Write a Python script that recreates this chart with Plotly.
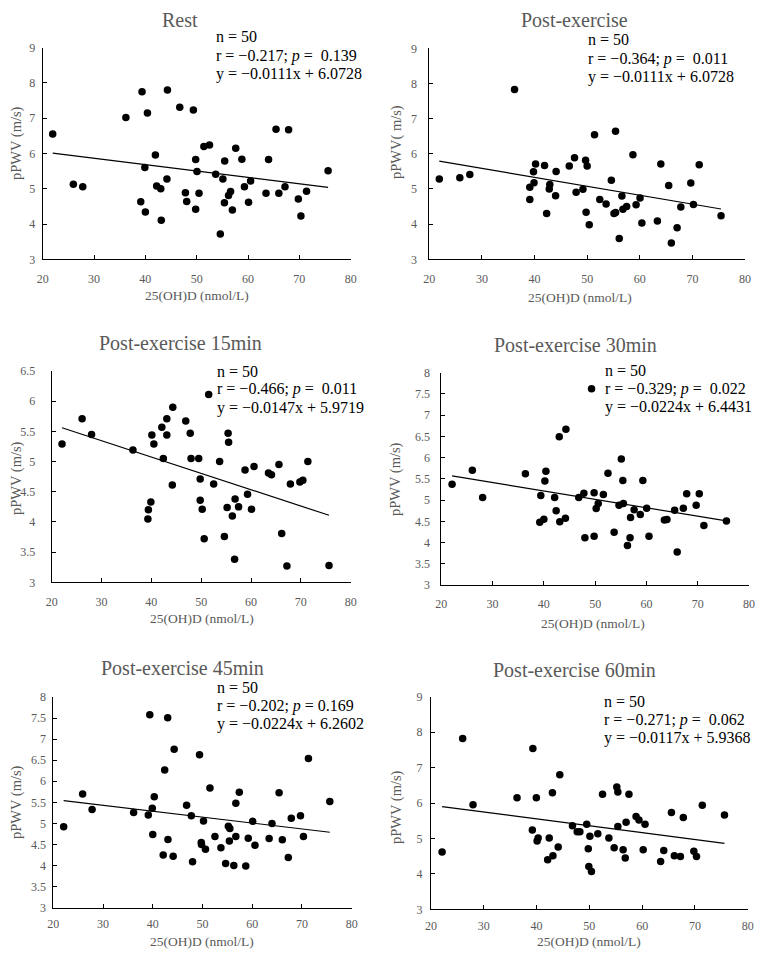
import plotly.graph_objects as go

# 25(OH)D (x) and pPWV (y)
rest_x = [21.95, 25.97, 27.8, 36.2, 39.1, 39.35, 39.9, 40.0, 40.4, 41.95, 42.2, 43.0, 43.1, 44.2, 44.3, 46.7,
          47.8, 48.05, 49.35, 49.8, 49.8, 50.06, 50.45, 51.4, 52.5, 53.7, 54.6, 55.1, 55.4, 55.45, 56.2, 56.6,
          56.95, 57.6, 58.8, 59.3, 60.1, 60.5, 63.5, 64.0, 65.45, 66.0, 67.2, 67.9, 69.8, 70.3, 71.4, 75.6]
rest_y = [6.55, 5.13, 5.06, 7.02, 4.63, 7.75, 5.6, 4.34, 7.15, 5.96, 5.08, 5.0, 4.11, 5.28, 7.8, 7.31,
          4.89, 4.64, 7.23, 5.83, 4.42, 5.49, 4.87, 6.2, 6.24, 5.41, 3.72, 5.28, 4.6, 5.79, 4.81, 4.92,
          4.4, 6.15, 5.84, 5.06, 4.62, 5.22, 4.87, 5.83, 6.69, 4.87, 5.06, 6.67, 4.71, 4.23, 4.93, 5.51]

post_x = [21.9, 25.8, 27.7, 36.2, 39.1, 39.1, 39.8, 39.9, 40.2, 41.9, 42.3, 42.9, 42.8, 44.0, 44.1, 46.6,
          47.6, 47.9, 49.2, 49.7, 49.8, 50.0, 50.4, 51.4, 52.4, 53.6, 54.6, 55.1, 55.4, 55.4, 56.1, 56.6,
          56.8, 57.5, 58.7, 59.3, 60.05, 60.4, 63.35, 64.0, 65.5, 66.0, 67.1, 67.8, 69.7, 70.2, 71.3, 75.45]
post_y = [5.28, 5.32, 5.41, 7.83, 5.05, 4.7, 5.49, 5.18, 5.71, 5.67, 4.3, 5.13, 5.0, 4.81, 5.5, 5.65,
          5.89, 4.91, 4.99, 5.82, 4.34, 5.65, 3.98, 6.54, 4.7, 4.57, 5.25, 4.3, 4.33, 6.64, 3.59, 4.8,
          4.42, 4.5, 5.97, 4.55, 4.74, 4.03, 4.09, 5.71, 5.1, 3.46, 3.9, 4.49, 5.17, 4.56, 5.69, 4.24]

p15_x = [22.07, 26.1, 28.0, 36.3, 39.3, 39.4, 40.1, 39.9, 40.5, 42.1, 42.4, 43.1, 43.1, 44.3, 44.2, 46.9,
         47.8, 47.96, 49.5, 49.8, 49.8, 50.2, 50.6, 51.5, 52.5, 53.7, 54.65, 55.2, 55.4, 55.5, 56.25, 56.8,
         56.7, 57.5, 58.8, 59.3, 60.1, 60.6, 63.5, 64.1, 65.6, 66.15, 67.2, 67.9, 69.8, 70.4, 71.4, 75.65]
p15_y = [5.29, 5.71, 5.45, 5.19, 4.05, 4.2, 5.44, 4.33, 5.29, 5.57, 5.05, 5.71, 5.44, 5.9, 4.61, 5.67,
         5.47, 5.05, 5.05, 4.71, 4.36, 4.21, 3.72, 6.11, 4.63, 5.0, 3.76, 4.24, 5.47, 5.32, 4.1, 4.38,
         3.38, 4.25, 4.86, 4.46, 4.21, 4.92, 4.81, 4.78, 4.95, 3.81, 3.27, 4.63, 4.66, 4.69, 5.0, 3.28]

p30_x = [22.1, 26.05, 28.06, 36.4, 39.2, 39.4, 40.0, 40.2, 40.4, 42.1, 42.4, 43.0, 43.1, 44.2, 44.3, 46.8,
         47.8, 48.0, 49.3, 49.8, 49.8, 50.2, 50.6, 51.6, 52.5, 53.7, 54.65, 55.1, 55.4, 55.5, 56.3, 56.8,
         56.9, 57.6, 58.8, 59.3, 60.05, 60.5, 63.5, 64.0, 65.5, 66.0, 67.2, 67.85, 69.7, 70.3, 71.2, 75.6]
p30_y = [5.37, 5.7, 5.06, 5.62, 4.48, 5.11, 4.55, 5.45, 5.68, 5.06, 4.75, 6.49, 4.49, 4.57, 6.67, 5.06,
         5.16, 4.11, 7.62, 5.17, 4.15, 4.8, 4.92, 5.13, 5.63, 4.24, 4.88, 5.97, 5.46, 4.92, 3.93, 4.11,
         4.59, 4.77, 4.66, 5.46, 4.81, 4.15, 4.53, 4.54, 4.76, 3.78, 4.81, 5.15, 4.88, 5.15, 4.4, 4.51]

p45_x = [22.08, 25.9, 27.8, 36.15, 39.1, 39.4, 39.9, 40.0, 40.3, 42.1, 42.4, 43.0, 43.05, 44.1, 44.3, 46.8,
         47.75, 48.0, 49.4, 49.75, 49.8, 50.2, 50.6, 51.5, 52.5, 53.7, 54.65, 55.2, 55.4, 55.5, 56.3, 56.7,
         56.7, 57.4, 58.7, 59.2, 60.1, 60.55, 63.4, 63.97, 65.4, 66.05, 67.25, 67.85, 69.7, 70.3, 71.3, 75.6]
p45_y = [4.92, 5.7, 5.33, 5.26, 5.2, 7.58, 5.36, 4.74, 5.63, 4.25, 6.27, 7.51, 4.62, 4.22, 6.76, 5.43,
         5.18, 4.09, 6.63, 4.55, 4.5, 5.06, 4.39, 5.84, 4.69, 4.42, 4.05, 4.93, 4.58, 4.88, 4.0, 4.69,
         5.48, 5.74, 3.99, 4.65, 5.05, 4.48, 4.64, 5.0, 5.73, 4.61, 4.19, 5.12, 5.18, 4.69, 6.54, 5.52]

p60_x = [22.1, 26.0, 27.96, 36.3, 39.2, 39.3, 39.96, 40.1, 40.3, 42.1, 42.4, 43.0, 43.1, 44.1, 44.4, 46.8,
         47.7, 48.2, 49.5, 49.8, 49.9, 50.1, 50.4, 51.6, 52.5, 53.7, 54.7, 55.2, 55.4, 55.4, 56.4, 56.8,
         56.96, 57.5, 58.85, 59.4, 60.2, 60.55, 63.5, 64.1, 65.55, 66.1, 67.25, 67.8, 69.8, 70.3, 71.4, 75.6]
p60_y = [4.62, 7.82, 5.95, 6.15, 5.24, 7.54, 6.15, 4.93, 5.01, 4.4, 5.01, 6.29, 4.51, 4.76, 6.8, 5.36,
         5.19, 5.19, 5.4, 4.71, 4.21, 5.06, 4.07, 5.13, 6.25, 5.01, 4.74, 6.45, 6.31, 5.34, 4.68, 4.45,
         5.46, 6.25, 5.62, 5.52, 4.68, 5.4, 4.35, 4.66, 5.73, 4.51, 4.49, 5.59, 4.64, 4.49, 5.94, 5.66]

# trend line end values (at min x and max x) as drawn
fit_start = [6.01, 5.79, 5.56, 5.57, 5.54, 5.90]
fit_end = [5.04, 4.43, 4.11, 4.51, 4.79, 4.86]

titles = ['Rest', 'Post-exercise', 'Post-exercise 15min', 'Post-exercise 30min',
          'Post-exercise 45min', 'Post-exercise 60min']
y_titles = ['pPWV (m/s)', 'pPWV( m/s)', 'pPWV (m/s)', 'pPWV (m/s)', 'pPWV (m/s)', 'pPWV (m/s)']
x_title = '25(OH)D (nmol/L)'
n_values = [50, 50, 50, 50, 50, 50]
r_values = ['−0.217', '−0.364', '−0.466', '−0.329', '−0.202', '−0.271']
p_values = ['\u00a0 0.139', '\u00a0 0.011', '\u00a0 0.011', '\u00a0 0.022', ' 0.169', '\u00a0 0.062']
equations = ['y = −0.0111x + 6.0728', 'y = −0.0111x + 6.0728', 'y = −0.0147x + 5.9719',
             'y = −0.0224x + 6.4431', 'y = −0.0224x + 6.2602', 'y = −0.0117x + 5.9368']
y_max = [9, 9, 6.5, 8, 8, 9]
y_step = [1, 1, 0.5, 0.5, 0.5, 1]

xs = [rest_x, post_x, p15_x, p30_x, p45_x, p60_x]
ys = [rest_y, post_y, p15_y, p30_y, p45_y, p60_y]

# ---- layout, in page pixels (the page body adds an 8px margin) ----
PAGE_W, PAGE_H, BODY = 763, 958, 8
W, H = PAGE_W - 2 * BODY, PAGE_H - 2 * BODY


def px(x):
    return (x - BODY) / W


def py(y):
    return 1 - (y - BODY) / H


# plot boxes: left, right, top, bottom
boxes = [(42.7, 350.7, 47.7, 259.3), (429.3, 745.0, 48.3, 259.3),
         (51.7, 350.7, 371.0, 582.3), (441.3, 749.0, 372.7, 585.0),
         (53.3, 351.7, 697.0, 907.7), (431.0, 747.7, 696.7, 909.3)]
ylabel_gap = [4, 9, 13, 8, 4, 5]
xlabel_gap = [8, 8, 8, 8, 5, 5]
title_pos = [(180, 20), (574, 20), (180, 343), (575, 345), (182, 668), (574, 670)]
stats_pos = [(216, 37), (588, 40), (217, 371), (605, 370), (217, 687), (604, 701)]
xtitle_pos = [(197, 295), (580, 297), (202, 618), (593, 623), (202, 941.5), (589, 941.5)]
ytitle_pos = [(17, 143), (397, 142), (16, 478), (395, 479), (16, 802), (396, 807)]
LINE_STEP = 18.5

SERIF = 'Liberation Serif, Times New Roman, serif'
GREY = '#595959'

fig = go.Figure()
layout = {}
annotations = []


def note(text, x, y, size, color, xanchor='center', angle=0):
    annotations.append(dict(
        text=text, x=px(x), y=py(y), xref='paper', yref='paper',
        xanchor=xanchor, yanchor='middle', showarrow=False, textangle=angle,
        borderpad=0, borderwidth=0,
        font=dict(family=SERIF, size=size, color=color)
    ))


for i in range(6):
    sfx = '' if i == 0 else str(i + 1)
    xref, yref = 'x' + sfx, 'y' + sfx
    left, right, top, bottom = boxes[i]

    fig.add_trace(go.Scatter(
        x=xs[i], y=ys[i], mode='markers',
        marker=dict(color='black', size=7.5),
        xaxis=xref, yaxis=yref, showlegend=False
    ))
    fig.add_trace(go.Scatter(
        x=[min(xs[i]), max(xs[i])], y=[fit_start[i], fit_end[i]], mode='lines',
        line=dict(color='black', width=1.2),
        xaxis=xref, yaxis=yref, showlegend=False
    ))

    common = dict(showline=True, linecolor='black', linewidth=1, ticks='inside', ticklen=4,
                  tickcolor='black', showgrid=False, zeroline=False, automargin=False,
                  tickfont=dict(family=SERIF, size=12, color=GREY))
    layout['xaxis' + sfx] = dict(
        common, domain=[px(left), px(right)], range=[20, 80], dtick=10, tick0=20,
        anchor=yref, ticklabelstandoff=xlabel_gap[i]
    )
    layout['yaxis' + sfx] = dict(
        common, domain=[py(bottom), py(top)], range=[3, y_max[i]], dtick=y_step[i], tick0=3,
        anchor=xref, ticklabelstandoff=ylabel_gap[i]
    )

    note(titles[i], *title_pos[i], 20, GREY)
    note(x_title, *xtitle_pos[i], 13.5, GREY)
    note(y_titles[i], *ytitle_pos[i], 14.5, GREY, angle=-90)

    sx, sy = stats_pos[i]
    lines = [f'n = {n_values[i]}',
             f'r = {r_values[i]}; <i>p</i> ={p_values[i]}',
             equations[i]]
    for k, line in enumerate(lines):
        note(line, sx, sy + k * LINE_STEP, 16, 'black', xanchor='left')

fig.update_layout(**layout)
fig.update_layout(
    template='none',
    annotations=annotations,
    width=W, height=H,
    margin=dict(l=0, r=0, t=0, b=0),
    paper_bgcolor='white',
    plot_bgcolor='white',
    showlegend=False
)

fig.write_html('out.html')
